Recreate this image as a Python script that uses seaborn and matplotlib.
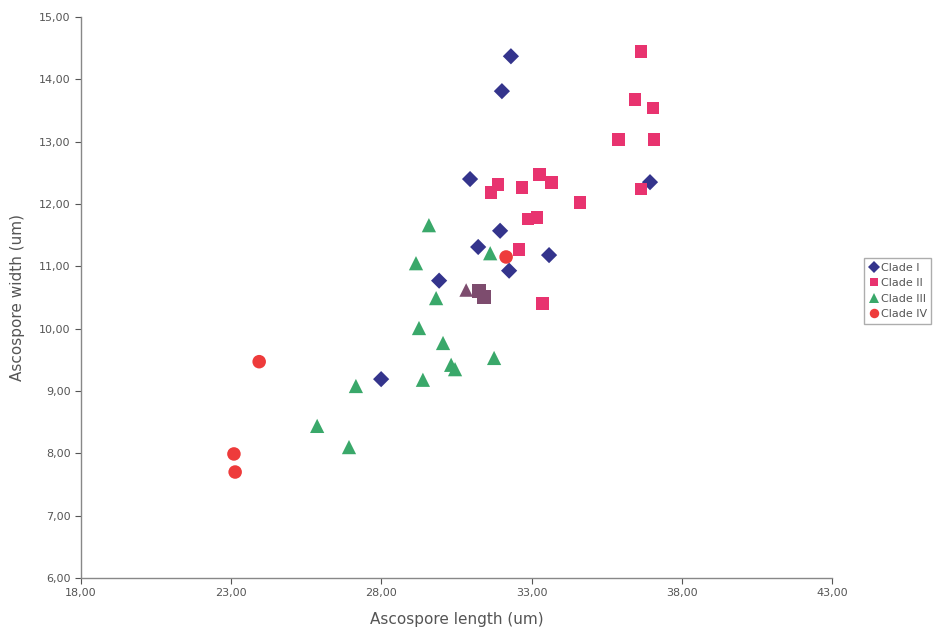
import pandas as pd
import matplotlib.pyplot as plt
import seaborn as sns
from matplotlib.ticker import FuncFormatter

# values
clade1_len = [32.31, 32.01, 30.95, 31.95, 31.22, 33.58, 32.25, 29.92, 27.99, 36.94]
clade1_wid = [14.37, 13.81, 12.40, 11.57, 11.31, 11.18, 10.93, 10.77, 9.19, 12.35]

clade2_len = [36.64, 36.44, 37.04, 35.88, 37.07, 36.64, 31.88, 31.65, 32.68, 33.25,
              33.65, 34.61, 32.88, 33.18, 32.58, 33.35]
clade2_wid = [14.44, 13.68, 13.54, 13.03, 13.03, 12.24, 12.31, 12.18, 12.26, 12.47,
              12.34, 12.03, 11.76, 11.78, 11.27, 10.40]

clade3_len = [29.58, 29.15, 31.62, 29.82, 29.25, 30.05, 30.32, 30.45, 31.75, 29.38,
              27.15, 25.86, 26.92]
clade3_wid = [11.66, 11.05, 11.21, 10.49, 10.01, 9.77, 9.42, 9.35, 9.53, 9.18,
              9.08, 8.44, 8.10]

clade4_len = [23.93, 23.09, 23.13, 32.15]
clade4_wid = [9.47, 7.99, 7.70, 11.15]

# overlapping markers that came out purple in the scan
mixed_len = [30.82, 31.25, 31.42]
mixed_wid = [10.62, 10.60, 10.51]
mixed_kind = ["tri", "sq", "sq"]

x_ticks = [18, 23, 28, 33, 38, 43]
y_ticks = [6, 7, 8, 9, 10, 11, 12, 13, 14, 15]

clades = ["Clade I", "Clade II", "Clade III", "Clade IV"]
palette = {"Clade I": "#34348c", "Clade II": "#e8336f",
           "Clade III": "#3aa86a", "Clade IV": "#ee3b3b"}
markers = {"Clade I": "D", "Clade II": "s", "Clade III": "^", "Clade IV": "o"}
sizes = {"Clade I": 68, "Clade II": 85, "Clade III": 105, "Clade IV": 95}

df = pd.concat([
    pd.DataFrame({"length": l, "width": w, "clade": c})
    for l, w, c in zip([clade1_len, clade2_len, clade3_len, clade4_len],
                       [clade1_wid, clade2_wid, clade3_wid, clade4_wid], clades)
], ignore_index=True)
mixed = pd.DataFrame({"length": mixed_len, "width": mixed_wid, "kind": mixed_kind})

sns.set_style("white")
fig = plt.figure(figsize=(9.39, 6.41), dpi=100)
ax = fig.add_axes([0.0863, 0.0983, 0.7998, 0.8752])

sns.scatterplot(data=df, x="length", y="width", hue="clade", style="clade", size="clade",
                palette=palette, markers=markers, sizes=sizes,
                hue_order=clades, style_order=clades, size_order=clades,
                linewidth=0, ax=ax)
sns.scatterplot(data=mixed, x="length", y="width", style="kind",
                markers={"tri": "^", "sq": "s"}, color="#7d4c6e",
                s=95, linewidth=0, legend=False, ax=ax)

ax.set_xlim(18, 43)
ax.set_ylim(6, 15)
ax.set_xticks(x_ticks)
ax.set_yticks(y_ticks)
fmt = FuncFormatter(lambda v, p: f"{v:.2f}".replace(".", ","))
ax.xaxis.set_major_formatter(fmt)
ax.yaxis.set_major_formatter(fmt)
ax.tick_params(axis="both", labelsize=8, colors="#555555", length=4, width=0.8,
               direction="out", left=True, bottom=True)
for side in ["top", "right"]:
    ax.spines[side].set_visible(False)
for side in ["left", "bottom"]:
    ax.spines[side].set_color("#888888")
    ax.spines[side].set_linewidth(1)

ax.set_xlabel("Ascospore length (um)", fontsize=11, color="#555555", labelpad=10)
ax.set_ylabel("Ascospore width (um)", fontsize=11, color="#555555", labelpad=10)

sns.move_legend(ax, "upper left", bbox_to_anchor=(1.035, 0.58), title=None,
                fontsize=8, frameon=True, handletextpad=0.1, borderpad=0.4,
                labelspacing=0.5, handlelength=1.0, markerscale=0.7, fancybox=False,
                edgecolor="#999999", labelcolor="#555555")

fig.savefig("out.png", dpi=100)
